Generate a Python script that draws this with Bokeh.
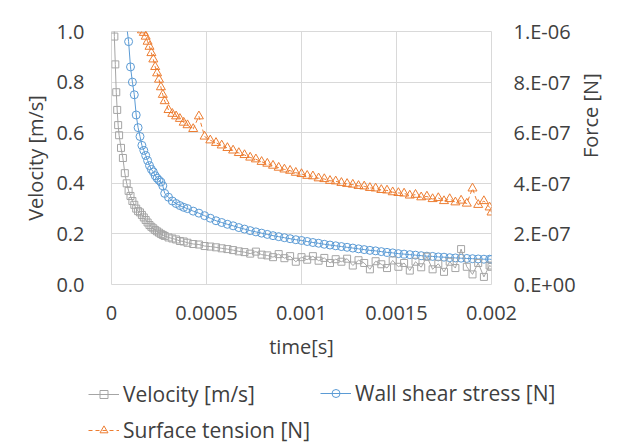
import math
from bokeh.plotting import figure
from bokeh.models import Range1d, LinearAxis, FixedTicker, Legend, LegendItem
from bokeh.layouts import column
from bokeh.embed import file_html
from bokeh.resources import INLINE

# ---- data -------------------------------------------------------------
time_s = [
    0.000005, 0.00001, 0.000015, 0.00002, 0.000025, 0.00003, 0.000035, 0.00004,
    0.00005, 0.00006, 0.00007, 0.00008, 0.00009, 0.0001, 0.00011, 0.00012,
    0.00013, 0.00014, 0.00015, 0.00016, 0.00017, 0.00018, 0.00019, 0.0002,
    0.00021, 0.00022, 0.00023, 0.00024, 0.00025, 0.00026, 0.00027, 0.00028,
    0.0003, 0.00032, 0.00034, 0.00036, 0.00038,
    0.0004, 0.00043, 0.00046, 0.00049, 0.00052, 0.00055, 0.00058, 0.00061, 0.00064, 0.00067,
    0.0007, 0.00073, 0.00076, 0.00079, 0.00082, 0.00085, 0.00088, 0.00091, 0.00094, 0.00097,
    0.001, 0.00103, 0.00106, 0.00109, 0.00112, 0.00115, 0.00118, 0.00121, 0.00124, 0.00127,
    0.0013, 0.00133, 0.00136, 0.00139, 0.00142, 0.00145, 0.00148, 0.00151, 0.00154, 0.00157,
    0.0016, 0.00163, 0.00166, 0.00169, 0.00172, 0.00175, 0.00178, 0.00181, 0.00184, 0.00187,
    0.0019, 0.00193, 0.00196, 0.00199, 0.002,
]

velocity_ms = [
    1.6, 1.2, 0.98, 0.87, 0.76, 0.69, 0.63, 0.59,
    0.54, 0.50, 0.44, 0.40, 0.37, 0.35, 0.33, 0.315,
    0.30, 0.29, 0.285, 0.275, 0.265, 0.255, 0.245, 0.235,
    0.228, 0.222, 0.215, 0.21, 0.205, 0.20, 0.196, 0.192,
    0.186, 0.182, 0.178, 0.172, 0.170,
    0.165, 0.160, 0.158, 0.152, 0.150, 0.147, 0.143, 0.140, 0.136, 0.131,
    0.128, 0.122, 0.13, 0.118, 0.115, 0.108, 0.12, 0.104, 0.112, 0.09,
    0.108, 0.098, 0.112, 0.094, 0.105, 0.085, 0.10, 0.09, 0.102, 0.075,
    0.096, 0.085, 0.06, 0.092, 0.08, 0.065, 0.095, 0.07, 0.085, 0.055,
    0.09, 0.068, 0.11, 0.06, 0.082, 0.05, 0.09, 0.065, 0.14, 0.07,
    0.04, 0.085, 0.03, 0.075, 0.07,
]

wall_shear_N = [
    30e-7, 25e-7, 21e-7, 18.5e-7, 16.5e-7, 15e-7, 14e-7, 13e-7,
    12e-7, 11.2e-7, 10.6e-7, 10.2e-7, 9.6e-7, 8.6e-7, 8.0e-7, 7.5e-7,
    6.7e-7, 6.2e-7, 5.85e-7, 5.5e-7, 5.3e-7, 5.1e-7, 4.9e-7, 4.7e-7,
    4.55e-7, 4.45e-7, 4.3e-7, 4.2e-7, 4.12e-7, 4.05e-7, 3.9e-7, 3.6e-7,
    3.45e-7, 3.3e-7, 3.2e-7, 3.12e-7, 3.05e-7,
    3.0e-7, 2.9e-7, 2.82e-7, 2.72e-7, 2.62e-7, 2.52e-7, 2.45e-7, 2.38e-7, 2.32e-7, 2.25e-7,
    2.19e-7, 2.13e-7, 2.08e-7, 2.03e-7, 1.98e-7, 1.93e-7, 1.89e-7, 1.85e-7, 1.81e-7, 1.77e-7,
    1.74e-7, 1.7e-7, 1.66e-7, 1.63e-7, 1.59e-7, 1.56e-7, 1.53e-7, 1.5e-7, 1.47e-7, 1.44e-7,
    1.41e-7, 1.38e-7, 1.35e-7, 1.33e-7, 1.3e-7, 1.27e-7, 1.25e-7, 1.22e-7, 1.2e-7, 1.18e-7,
    1.16e-7, 1.14e-7, 1.12e-7, 1.11e-7, 1.09e-7, 1.08e-7, 1.06e-7, 1.05e-7, 1.04e-7, 1.03e-7,
    1.02e-7, 1.01e-7, 1.0e-7, 1.0e-7, 0.99e-7,
]

surface_tension_N = [
    40e-7, 32e-7, 28e-7, 25e-7, 23e-7, 21e-7, 20e-7, 19e-7,
    17e-7, 15.5e-7, 14.5e-7, 13.5e-7, 12.8e-7, 12.2e-7, 11.6e-7, 11.2e-7,
    10.8e-7, 10.5e-7, 10.2e-7, 10.05e-7, 9.95e-7, 9.8e-7, 9.6e-7, 9.4e-7,
    9.15e-7, 8.9e-7, 8.6e-7, 8.35e-7, 8.1e-7, 7.8e-7, 7.5e-7, 7.25e-7,
    6.9e-7, 6.75e-7, 6.65e-7, 6.55e-7, 6.4e-7,
    6.3e-7, 6.15e-7, 6.65e-7, 5.85e-7, 5.7e-7, 5.6e-7, 5.5e-7, 5.4e-7, 5.3e-7, 5.2e-7,
    5.12e-7, 5.02e-7, 4.95e-7, 4.85e-7, 4.78e-7, 4.7e-7, 4.62e-7, 4.55e-7, 4.5e-7, 4.42e-7,
    4.37e-7, 4.3e-7, 4.28e-7, 4.2e-7, 4.17e-7, 4.1e-7, 4.08e-7, 4.02e-7, 3.98e-7, 3.95e-7,
    3.9e-7, 3.88e-7, 3.82e-7, 3.8e-7, 3.74e-7, 3.72e-7, 3.65e-7, 3.62e-7, 3.6e-7, 3.52e-7,
    3.55e-7, 3.45e-7, 3.48e-7, 3.38e-7, 3.42e-7, 3.3e-7, 3.38e-7, 3.25e-7, 3.32e-7, 3.2e-7,
    3.8e-7, 3.15e-7, 3.3e-7, 3.05e-7, 2.85e-7,
]

x_ticks = [0, 0.0005, 0.001, 0.0015, 0.002]
x_tick_labels = ["0", "0.0005", "0.001", "0.0015", "0.002"]
vel_ticks = [0, 0.2, 0.4, 0.6, 0.8, 1.0]
vel_tick_labels = ["0.0", "0.2", "0.4", "0.6", "0.8", "1.0"]
force_ticks = [0, 2e-7, 4e-7, 6e-7, 8e-7, 1e-6]
force_tick_labels = ["0.E+00", "2.E-07", "4.E-07", "6.E-07", "8.E-07", "1.E-06"]

series_labels = ["Velocity [m/s]", "Wall shear stress [N]", "Surface tension [N]"]

# ---- styling ----------------------------------------------------------
FONT = "Open Sans"
TEXT = "#404040"
GRID = "#D9D9D9"
GRAY = "#A5A5A5"
BLUE = "#5B9BD5"
ORANGE = "#ED7D31"

p = figure(
    width=621, height=376,
    output_backend="svg", toolbar_location=None,
    x_range=Range1d(0, 0.002), y_range=Range1d(0, 1.0),
    min_border_left=111, min_border_right=130,
    min_border_top=31, min_border_bottom=92,
)
p.frame_align = False
p.extra_y_ranges = {"force": Range1d(0, 1e-6)}
p.outline_line_color = GRID
p.background_fill_color = "white"
p.border_fill_color = "white"

STYLES = {
    "vel": dict(color=GRAY, marker="square", size=7, dash="solid"),
    "wss": dict(color=BLUE, marker="circle", size=8, dash="solid"),
    "st": dict(color=ORANGE, marker="triangle", size=9, dash="4 3"),
}

def add_series(fig, x, y, key, **kw):
    st = STYLES[key]
    ln = fig.line(x, y, line_color=st["color"], line_width=1, line_dash=st["dash"], **kw)
    sc = fig.scatter(x, y, marker=st["marker"], size=st["size"], line_color=st["color"],
                     fill_color=None, line_width=1, **kw)
    return ln, sc

# series (blue, orange, then gray on top)
add_series(p, time_s, wall_shear_N, "wss", y_range_name="force")
add_series(p, time_s, surface_tension_N, "st", y_range_name="force")
add_series(p, time_s, velocity_ms, "vel")

# axes
def style_axis(ax):
    ax.axis_line_color = None
    ax.major_tick_line_color = None
    ax.minor_tick_line_color = None
    ax.major_tick_in = 0
    ax.major_tick_out = 0
    ax.minor_tick_in = 0
    ax.minor_tick_out = 0
    ax.major_label_text_font = FONT
    ax.major_label_text_font_size = "20px"
    ax.major_label_text_color = TEXT
    ax.axis_label_text_font = FONT
    ax.axis_label_text_font_size = "20px"
    ax.axis_label_text_font_style = "normal"
    ax.axis_label_text_color = TEXT

xax = p.xaxis[0]
xax.ticker = FixedTicker(ticks=x_ticks)
xax.major_label_overrides = dict(zip(x_ticks, x_tick_labels))
xax.axis_label = "time[s]"
style_axis(xax)
xax.major_label_standoff = 21
xax.axis_label_standoff = 10

yax = p.yaxis[0]
yax.ticker = FixedTicker(ticks=vel_ticks)
yax.major_label_overrides = dict(zip(vel_ticks, vel_tick_labels))
yax.axis_label = "Velocity [m/s]"
style_axis(yax)
yax.major_label_standoff = 27
yax.axis_label_standoff = 4

rax = LinearAxis(y_range_name="force", ticker=FixedTicker(ticks=force_ticks),
                 major_label_overrides=dict(zip(force_ticks, force_tick_labels)),
                 axis_label="Force [N]")
style_axis(rax)
rax.major_label_standoff = 22
rax.axis_label_standoff = 12
rax.axis_label_orientation = math.pi / 2
p.add_layout(rax, "right")

# grids
p.xgrid.ticker = FixedTicker(ticks=x_ticks)
p.ygrid.ticker = FixedTicker(ticks=vel_ticks)
for g in (p.xgrid[0], p.ygrid[0]):
    g.grid_line_color = GRID
    g.grid_line_width = 1

# ---- legend strip under the chart ---------------------------------------
# the series are drawn here too, but outside this strip's visible range,
# so only their legend symbols show
lf = figure(
    width=621, height=70,
    output_backend="svg", toolbar_location=None,
    x_range=Range1d(1, 2), y_range=Range1d(1, 2),
    x_axis_type=None, y_axis_type=None,
    min_border_left=0, min_border_right=0, min_border_top=0, min_border_bottom=0,
)
lf.frame_align = False
lf.outline_line_color = None
lf.background_fill_color = "white"
lf.border_fill_color = "white"

lg_vel = add_series(lf, time_s, velocity_ms, "vel")
lg_wss = add_series(lf, time_s, wall_shear_N, "wss")
lg_st = add_series(lf, time_s, surface_tension_N, "st")

common = dict(
    border_line_color=None, background_fill_alpha=0,
    label_text_font=FONT, label_text_font_size="21px", label_text_color=TEXT,
    glyph_width=31, glyph_height=20, label_standoff=4,
    padding=0, margin=0, spacing=8,
)
legend_a = Legend(items=[LegendItem(label=series_labels[0], renderers=list(lg_vel)),
                         LegendItem(label=series_labels[2], renderers=list(lg_st))],
                  location=(88, 2), orientation="vertical", **common)
legend_b = Legend(items=[LegendItem(label=series_labels[1], renderers=list(lg_wss))],
                  location=(320, 39), orientation="vertical", **common)
lf.add_layout(legend_a)
lf.add_layout(legend_b)

layout = column(p, lf, spacing=0)
open("out.html", "w").write(file_html(layout, INLINE))
